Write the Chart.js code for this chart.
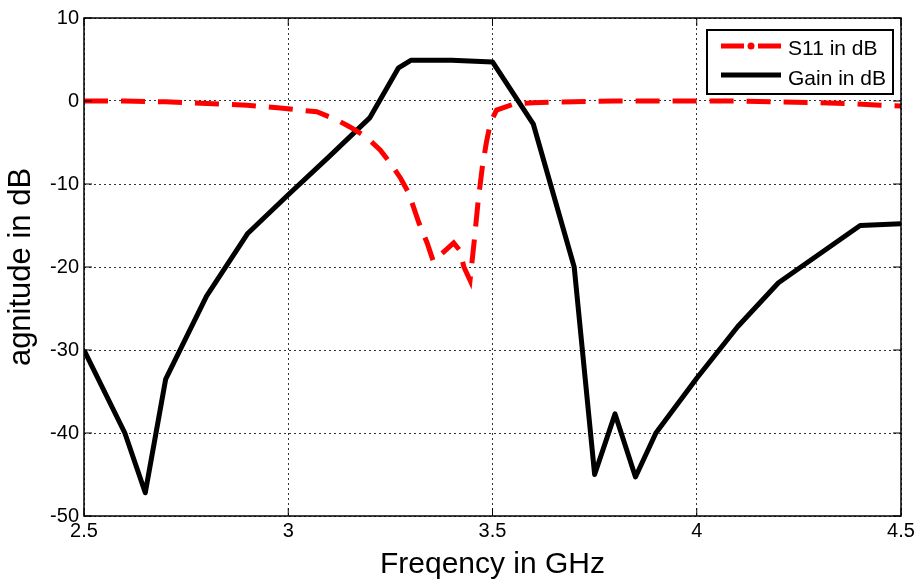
<!DOCTYPE html>
<html>
<head>
<meta charset="utf-8">
<title>S11 and Gain</title>
<script src="https://cdn.jsdelivr.net/npm/chart.js@4.4.1/dist/chart.umd.min.js"></script>
<style>
  html, body { margin: 0; padding: 0; background: #fff; }
</style>
</head>
<body>
<canvas id="chart" width="918" height="583"></canvas>
<script>
// values
const freqS11 = [2.5, 2.6, 2.7, 2.8, 2.9, 2.98, 3.03, 3.07, 3.12, 3.15, 3.19, 3.225, 3.25, 3.275, 3.295,
                 3.32, 3.34, 3.355, 3.38, 3.405, 3.42, 3.43, 3.445, 3.455, 3.465, 3.475, 3.485, 3.495,
                 3.51, 3.55, 3.6, 3.7, 3.8, 3.9, 4.0, 4.1, 4.2, 4.3, 4.37, 4.45, 4.5];
const s11 =     [0, 0, -0.1, -0.3, -0.5, -0.85, -1.1, -1.3, -2.3, -3.1, -4.3, -5.9, -7.5, -9.3, -11.1,
                 -14.7, -17.1, -19.3, -18.2, -17.1, -18, -20, -21.6, -17, -12, -8, -5, -2.6,
                 -1.1, -0.4, -0.2, -0.1, 0, 0, 0, 0, -0.1, -0.2, -0.3, -0.5, -0.6];

const freqGain = [2.5, 2.6, 2.65, 2.7, 2.8, 2.9, 3.0, 3.1, 3.2, 3.27, 3.3, 3.4, 3.5, 3.6, 3.7,
                  3.75, 3.8, 3.85, 3.9, 4.0, 4.1, 4.2, 4.4, 4.5];
const gain =     [-30, -40, -47.2, -33.5, -23.5, -16, -11.3, -6.7, -2, 4, 4.9, 4.9, 4.7, -2.8, -20,
                  -45, -37.7, -45.3, -40, -33.4, -27.2, -21.9, -15, -14.8];

const xTicks = [2.5, 3, 3.5, 4, 4.5];
const yTicks = [-50, -40, -30, -20, -10, 0, 10];

const FONT = "'Liberation Sans', Arial, sans-serif";

function toPoints(xs, ys) {
    return xs.map((x, i) => ({ x: x, y: ys[i] }));
}

// box, inner tick marks and the legend, drawn like the matlab figure
const framePlugin = {
    id: 'frameAndLegend',
    afterDatasetsDraw(chart) {
        const ctx = chart.ctx;
        const a = chart.chartArea;
        const xs = chart.scales.x, ys = chart.scales.y;
        ctx.save();
        ctx.strokeStyle = '#000';
        ctx.lineWidth = 1.5;
        ctx.setLineDash([]);
        ctx.strokeRect(a.left, a.top, a.right - a.left, a.bottom - a.top);

        const tl = 8;
        ctx.lineWidth = 1;
        ctx.beginPath();
        xTicks.forEach(v => {
            const px = xs.getPixelForValue(v);
            ctx.moveTo(px, a.bottom); ctx.lineTo(px, a.bottom - tl);
            ctx.moveTo(px, a.top); ctx.lineTo(px, a.top + tl);
        });
        yTicks.forEach(v => {
            const py = ys.getPixelForValue(v);
            ctx.moveTo(a.left, py); ctx.lineTo(a.left + tl, py);
            ctx.moveTo(a.right, py); ctx.lineTo(a.right - tl, py);
        });
        ctx.stroke();

        // legend
        const bx = a.right - 194, by = a.top + 12, bw = 186, bh = 64;
        ctx.fillStyle = '#fff';
        ctx.fillRect(bx, by, bw, bh);
        ctx.lineWidth = 2;
        ctx.strokeStyle = '#000';
        ctx.strokeRect(bx, by, bw, bh);

        const lx0 = bx + 14, lx1 = bx + 74;
        const r1 = by + 16, r2 = by + 45;
        ctx.lineWidth = 5;
        ctx.lineCap = 'butt';
        ctx.strokeStyle = '#ff0000';
        ctx.beginPath();
        ctx.moveTo(lx0, r1); ctx.lineTo(lx0 + 23, r1);
        ctx.moveTo(lx1 - 23, r1); ctx.lineTo(lx1, r1);
        ctx.stroke();
        ctx.fillStyle = '#ff0000';
        ctx.beginPath();
        ctx.arc((lx0 + lx1) / 2, r1, 3.5, 0, Math.PI * 2);
        ctx.fill();

        ctx.strokeStyle = '#000';
        ctx.beginPath();
        ctx.moveTo(lx0, r2); ctx.lineTo(lx1, r2);
        ctx.stroke();

        ctx.fillStyle = '#000';
        ctx.font = '21px ' + FONT;
        ctx.textBaseline = 'middle';
        ctx.textAlign = 'left';
        ctx.fillText('S11 in dB', lx1 + 7, r1 + 3);
        ctx.fillText('Gain in dB', lx1 + 7, r2 + 4);
        ctx.restore();
    }
};

const ctx = document.getElementById('chart').getContext('2d');
const myChart = new Chart(ctx, {
    type: 'scatter',
    data: {
        datasets: [
            {
                label: 'S11 in dB',
                data: toPoints(freqS11, s11),
                showLine: true,
                borderColor: '#ff0000',
                borderWidth: 5,
                borderDash: [24, 13],
                pointRadius: 0,
                tension: 0
            },
            {
                label: 'Gain in dB',
                data: toPoints(freqGain, gain),
                showLine: true,
                borderColor: '#000000',
                borderWidth: 5,
                pointRadius: 0,
                tension: 0,
                borderJoinStyle: 'round'
            }
        ]
    },
    options: {
        responsive: false,
        animation: false,
        devicePixelRatio: 1,
        layout: { padding: { top: 18, right: 17, left: 0, bottom: 0 } },
        plugins: {
            legend: { display: false },
            tooltip: { enabled: false }
        },
        scales: {
            x: {
                type: 'linear',
                min: 2.5,
                max: 4.5,
                afterBuildTicks: s => { s.ticks = xTicks.map(v => ({ value: v })); },
                afterFit: s => { s.height = 67; },
                ticks: {
                    color: '#000',
                    font: { size: 20, family: FONT },
                    padding: 3,
                    maxRotation: 0,
                    callback: v => String(v)
                },
                grid: { color: '#333', lineWidth: 1, drawTicks: false },
                border: { display: false, dash: [2, 3] },
                title: {
                    display: true,
                    text: 'Freqency in GHz',
                    color: '#000',
                    font: { size: 30, family: FONT },
                    padding: { top: 0, bottom: 0 }
                }
            },
            y: {
                type: 'linear',
                min: -50,
                max: 10,
                afterBuildTicks: s => { s.ticks = yTicks.map(v => ({ value: v })); },
                afterFit: s => { s.width = 84; },
                ticks: {
                    color: '#000',
                    font: { size: 20, family: FONT },
                    padding: 5,
                    callback: v => String(v)
                },
                grid: { color: '#333', lineWidth: 1, drawTicks: false },
                border: { display: false, dash: [2, 3] },
                title: {
                    display: true,
                    text: 'agnitude in dB',
                    color: '#000',
                    font: { size: 31, family: FONT },
                    padding: { top: 3, bottom: 0 }
                }
            }
        }
    },
    plugins: [framePlugin]
});
</script>
</body>
</html>
